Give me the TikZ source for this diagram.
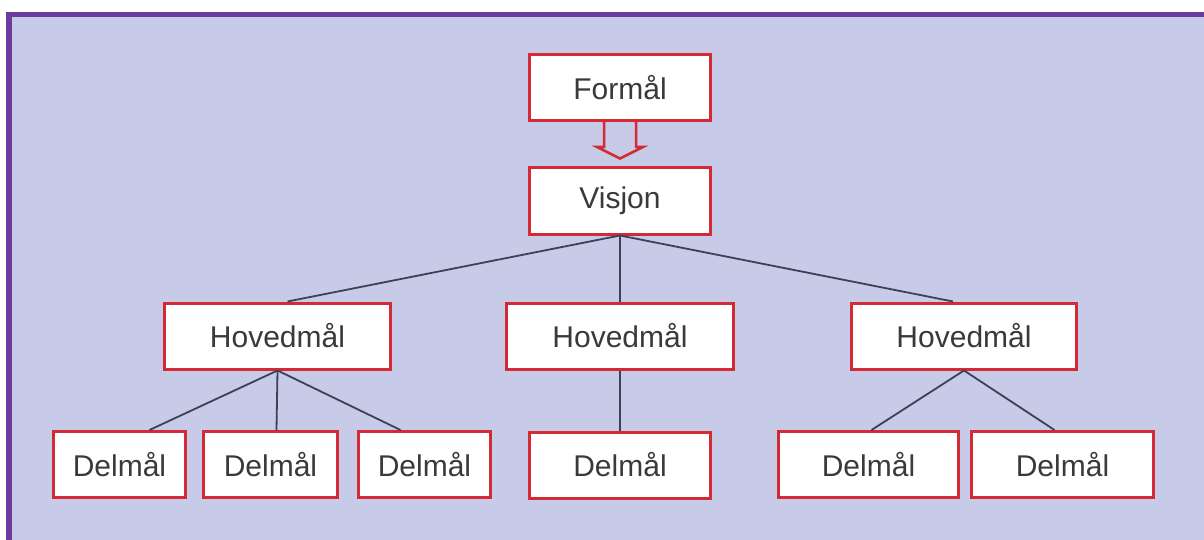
\documentclass[tikz,border=0pt]{standalone}
\usepackage{fontspec}
\setmainfont{Liberation Sans}
\usetikzlibrary{calc}
\definecolor{bg}{HTML}{C8CBE8}
\definecolor{framec}{HTML}{6A3C9E}
\definecolor{boxred}{HTML}{D42A35}
\definecolor{linec}{HTML}{3C4058}
\definecolor{txt}{HTML}{3A3A3A}
\begin{document}
\begin{tikzpicture}[x=1pt,y=-1pt,
  box/.style={draw=boxred, line width=3pt, fill=white, minimum height=66pt, inner sep=0pt,
              font=\fontsize{30}{36}\selectfont, text=txt},
  conn/.style={draw=linec, line width=1.8pt},
  blockarrow/.style={draw=boxred, line width=2.5pt, line join=miter}]
\useasboundingbox (0,0) rectangle (1204,540);
\clip (0,0) rectangle (1204,540);
\fill[white] (0,0) rectangle (1204,540);
\fill[bg] (9,14.5) rectangle (1210,545);
\draw[framec, line width=5.5pt] (1210,14.5) -- (9,14.5) -- (9,545);

\node[box, minimum width=181pt] (formal) at (620,87.5) {Formål};
\node[box, minimum width=181pt] (visjon) at (620,201) {Visjon};
\node[box, minimum width=226pt] (h1) at (277.5,336) {Hovedmål};
\node[box, minimum width=227pt] (h2) at (620,336) {Hovedmål};
\node[box, minimum width=225pt] (h3) at (964,336) {Hovedmål};
\node[box, minimum width=132pt] (d1) at (119.5,464.5) {Delmål};
\node[box, minimum width=134pt] (d2) at (270.5,464.5) {Delmål};
\node[box, minimum width=132pt] (d3) at (424.5,464.5) {Delmål};
\node[box, minimum width=181pt] (d4) at (620,465) {Delmål};
\node[box, minimum width=180pt] (d5) at (868.5,464.5) {Delmål};
\node[box, minimum width=182pt] (d6) at (1062.5,464.5) {Delmål};

% block arrow Formål -> Visjon
\draw[blockarrow] ($(formal.south)+(-16,0)$) -- ++(0,25) -- ++(-7,0)
  -- ($(visjon.north)+(0,-8)$) -- ($(formal.south)+(23,25)$) -- ++(-7,0) -- ++(0,-25);

% connectors
\draw[conn] (visjon.south) -- ($(h1.north)+(10,0)$);
\draw[conn] (visjon.south) -- (h2.north);
\draw[conn] (visjon.south) -- ($(h3.north)+(-11,0)$);
\draw[conn] (h1.south) -- ($(d1.north)+(30,0)$);
\draw[conn] (h1.south) -- ($(d2.north)+(6,0)$);
\draw[conn] (h1.south) -- ($(d3.north)+(-24,0)$);
\draw[conn] (h2.south) -- (d4.north);
\draw[conn] (h3.south) -- ($(d5.north)+(3,0)$);
\draw[conn] (h3.south) -- ($(d6.north)+(-8,0)$);
\end{tikzpicture}
\end{document}
